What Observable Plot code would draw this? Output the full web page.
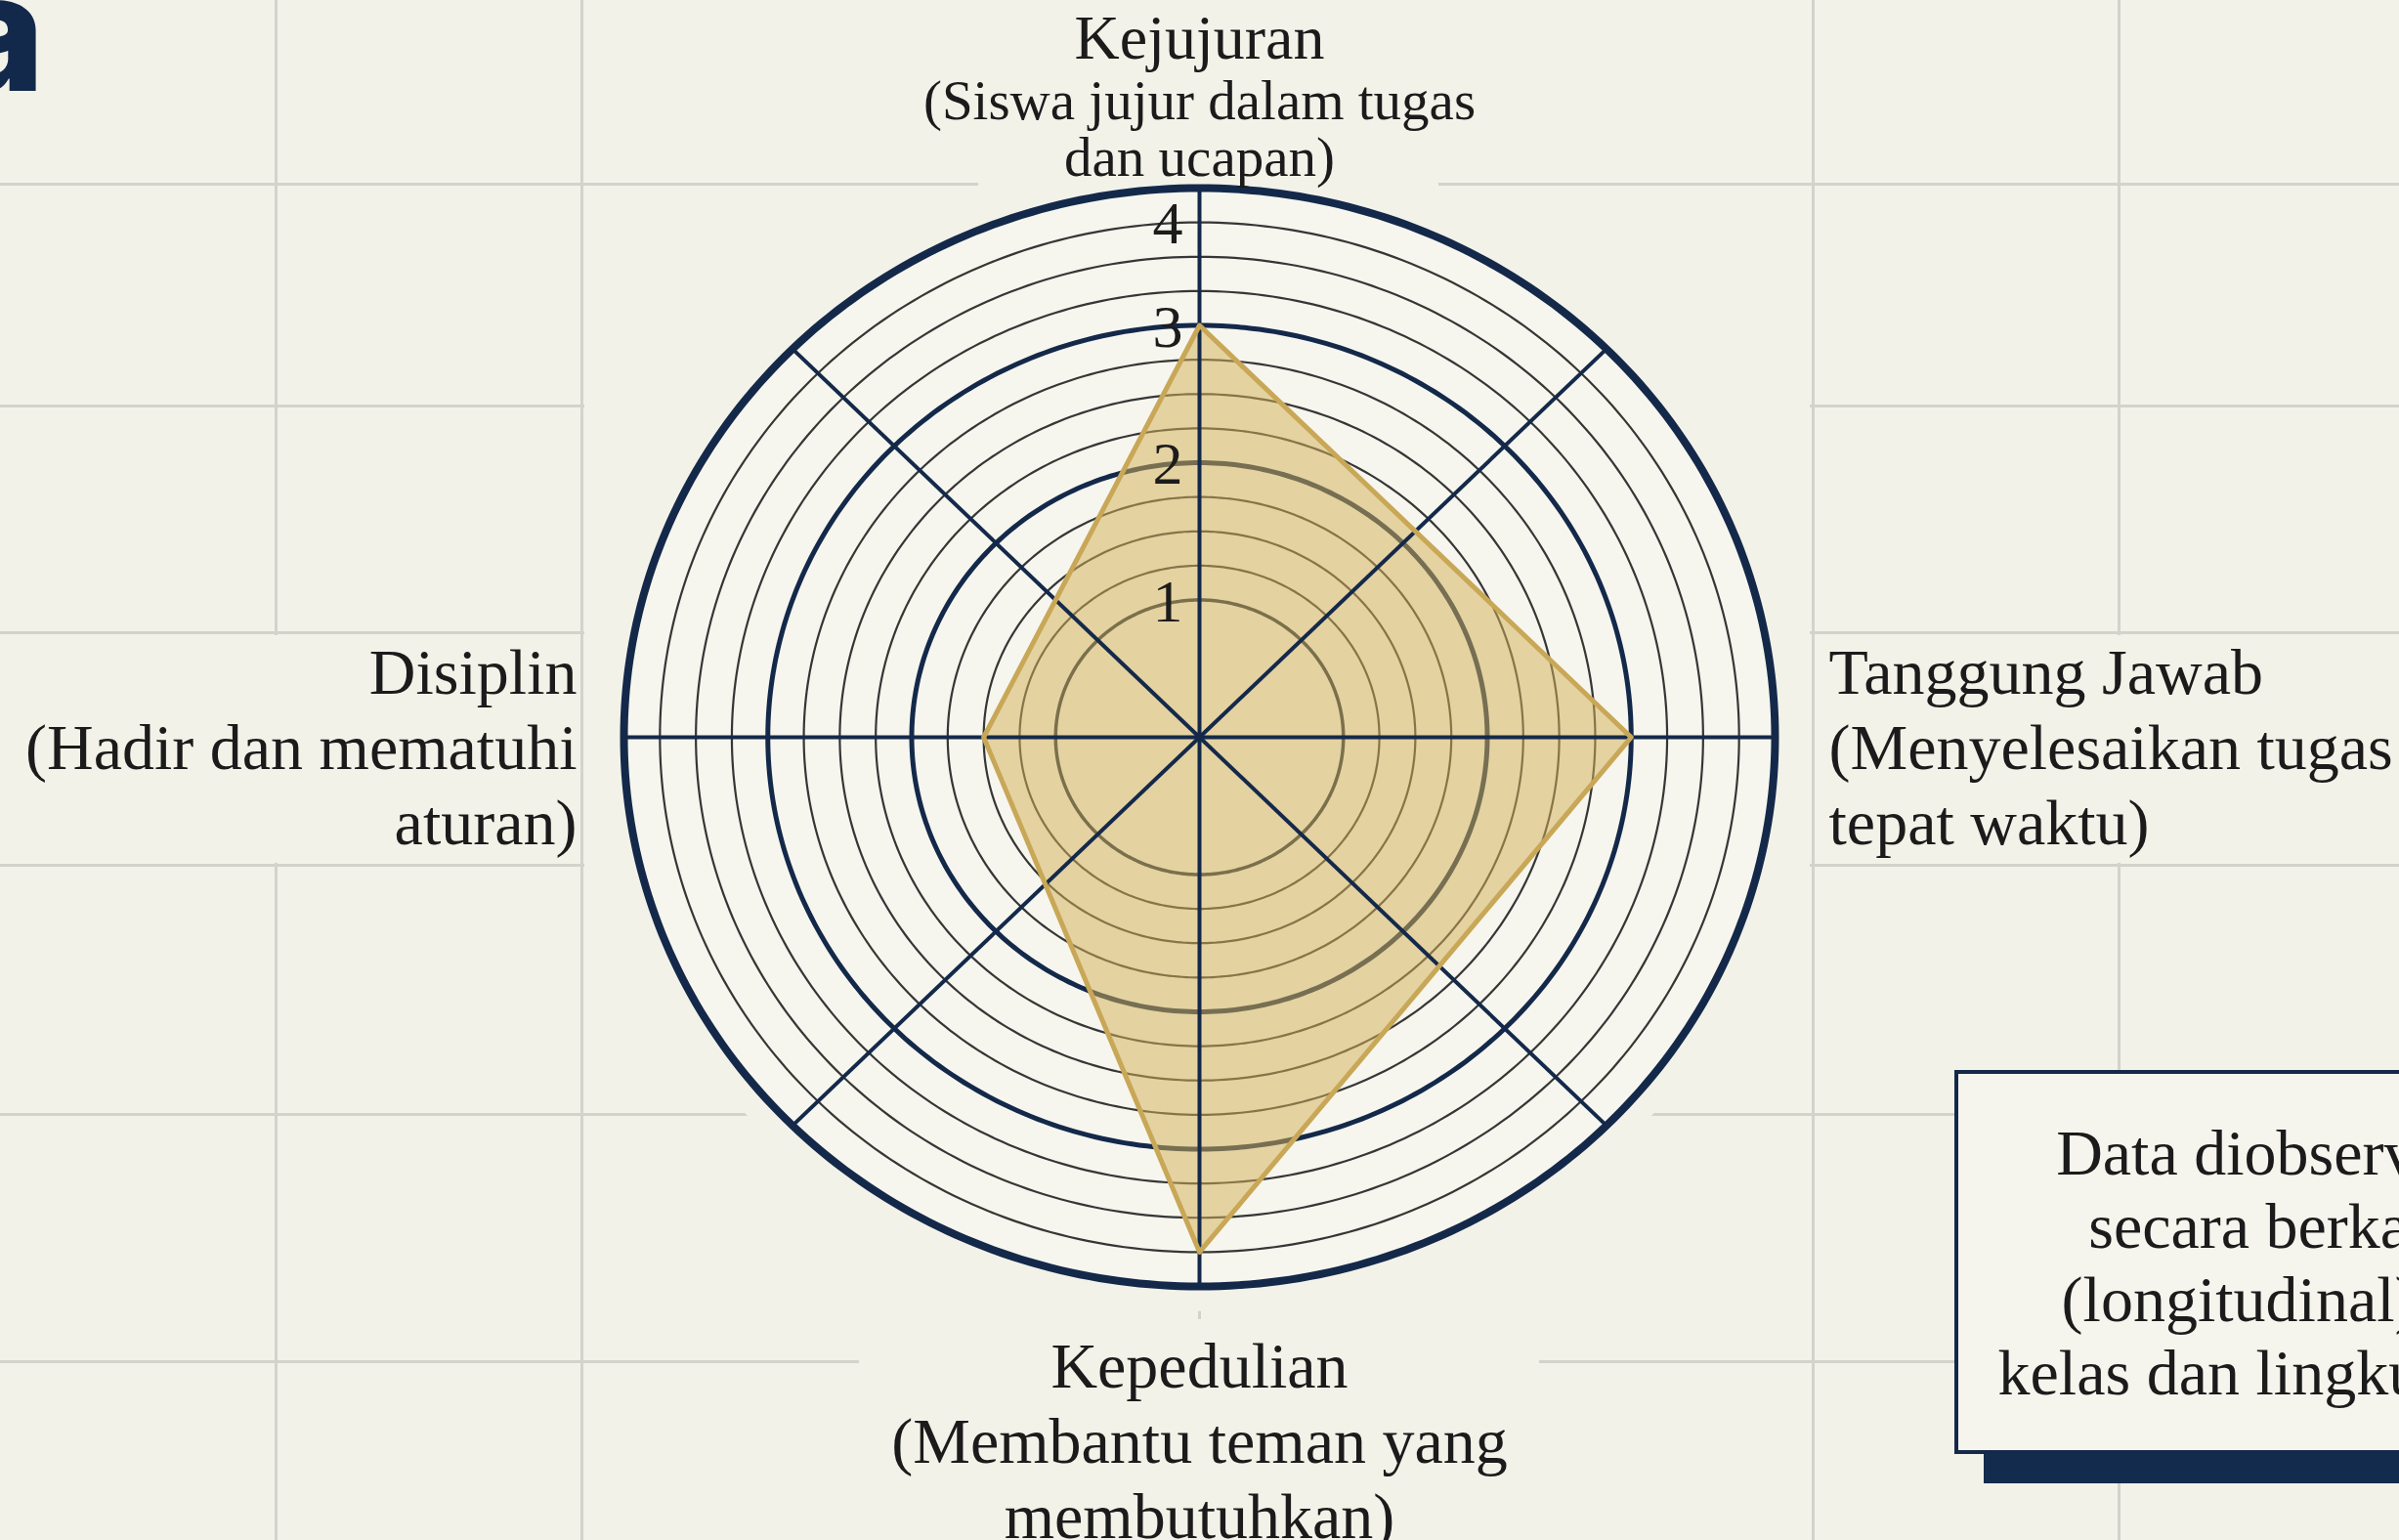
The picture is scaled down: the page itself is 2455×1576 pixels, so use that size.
<!DOCTYPE html>
<html>
<head>
<meta charset="utf-8">
<script src="https://cdn.jsdelivr.net/npm/d3@7"></script>
<script src="https://cdn.jsdelivr.net/npm/@observablehq/plot@0.6"></script>
<style>
  html, body { margin: 0; padding: 0; width: 2455px; height: 1576px; overflow: hidden; background: #f2f2e9; }
  #page { position: relative; width: 2455px; height: 1576px; overflow: hidden; background: #f2f2e9; }
  .g { position: absolute; background: #d3d3cc; }
  .m { position: absolute; background: #f2f2e9; }
  #chart { position: absolute; left: 0; top: 0; }
  #chart svg { display: block; }
  #note {
    position: absolute; left: 2000px; top: 1095px; width: 642px; height: 385px;
    border: 4px solid #14294a; background: #f5f5ee;
    box-shadow: 30px 30px 0 0 #132c4d;
    font-family: "Liberation Serif", serif; font-size: 66px; line-height: 75px; color: #1b1b1b;
    text-align: center; display: flex; flex-direction: column; justify-content: center;
  }
  #titleA {
    position: absolute; left: -254px; width: 300px; top: -52px; text-align: right;
    font-family: Inter, "Noto Sans", sans-serif; font-weight: 800; font-size: 168px; line-height: 1;
    color: #13294b;
  }
</style>
</head>
<body>
<div id="page"></div>
<script>
// ---------- data ----------
const categories = ["Kejujuran", "Tanggung Jawab", "Kepedulian", "Disiplin"];
const descriptions = [
  "(Siswa jujur dalam tugas\ndan ucapan)",
  "(Menyelesaikan tugas\ntepat waktu)",
  "(Membantu teman yang\nmembutuhkan)",
  "(Hadir dan mematuhi\naturan)"
];
const scores = [3, 3, 3.75, 1.5];
const tickValues = [1, 2, 3, 4];
const tickLabels = ["1", "2", "3", "4"];
const noteLines = ["Data diobservasi", "secara berkala", "(longitudinal) di", "kelas dan lingkungan"];
const titleTail = "a";

// ---------- layout ----------
const W = 2455, H = 1576;
const CX = 1227, CY = 754;      // centre of the radar in px
const KX = 147.25, KY = 140.5;  // px per unit (slightly elliptical, as in the reference)
const maxValue = 4;
const navy = "#14294a";
const serif = "Liberation Serif, serif";
const bg = "#f2f2e9";

const page = document.getElementById("page");

// background notebook grid (decoration)
const hLines = [188, 415, 647, 885, 1140, 1393];
const vLines = [282, 595, 1227, 1855, 2168];
for (const y of hLines) {
  const d = document.createElement("div"); d.className = "g";
  Object.assign(d.style, {left: "0px", top: (y - 1.5) + "px", width: W + "px", height: "3px"});
  page.appendChild(d);
}
for (const x of vLines) {
  const d = document.createElement("div"); d.className = "g";
  Object.assign(d.style, {left: (x - 1.5) + "px", top: "0px", width: "3px", height: H + "px"});
  page.appendChild(d);
}
// masks that hide the grid behind the chart area and its labels
const masks = [
  [598, 300, 1254, 700],   // central panel
  [1001, 0, 471, 195],     // top label
  [879, 1350, 696, 226],   // bottom label
  [0, 650, 592, 233],      // left label
  [1858, 650, 597, 233]    // right label
];
for (const [l, t, w, h] of masks) {
  const d = document.createElement("div"); d.className = "m";
  Object.assign(d.style, {left: l + "px", top: t + "px", width: w + "px", height: h + "px"});
  page.appendChild(d);
}

// ---------- geometry helpers ----------
const N = categories.length;
const angleOf = i => i * 2 * Math.PI / N;
const px = (r, a) => r * Math.sin(a);
const py = (r, a) => r * Math.cos(a);
const circle = r => d3.range(0, 361, 1).map(deg => ({r, x: px(r, deg * Math.PI / 180), y: py(r, deg * Math.PI / 180)}));

const minorRings = d3.range(1, maxValue + 0.001, 0.25).filter(v => Math.abs(v - Math.round(v)) > 1e-6);
const minorPts = minorRings.flatMap(circle);
const ring1 = circle(1);
const ringMid = [2, 3].flatMap(circle);
const ringOuter = circle(maxValue);
const maskPts = circle(maxValue * 1.045);

const poly = scores.map((v, i) => ({x: px(v, angleOf(i)), y: py(v, angleOf(i))}));
const spokes = d3.range(8).map(k => {
  const a = k * Math.PI / 4;
  return {x2: px(maxValue, a), y2: py(maxValue, a)};
});

// label placement per direction (offsets in px from the outer ring)
const labelLayout = [
  null, // top handled separately (two sizes)
  {dx: 55, dy: 8, textAnchor: "start"},
  {dx: 0, dy: 156, textAnchor: "middle"},
  {dx: -48, dy: 8, textAnchor: "end"}
];

const marks = [
  Plot.line(maskPts, {x: "x", y: "y", fill: bg, stroke: "none", curve: "linear-closed"}),
  Plot.line(ringOuter, {x: "x", y: "y", fill: "#f6f6ef", stroke: "none", curve: "linear-closed"}),
  Plot.line(minorPts, {x: "x", y: "y", z: "r", stroke: "#363636", strokeWidth: 2.2, curve: "linear-closed"}),
  Plot.line(ring1, {x: "x", y: "y", stroke: "#1c2a3c", strokeWidth: 3.5, curve: "linear-closed"}),
  Plot.line(ringMid, {x: "x", y: "y", z: "r", stroke: navy, strokeWidth: 5, curve: "linear-closed"}),
  Plot.line(poly, {x: "x", y: "y", fill: "#d2b05a", fillOpacity: 0.52, stroke: "none", curve: "linear-closed"}),
  Plot.link(spokes, {x1: () => 0, y1: () => 0, x2: "x2", y2: "y2", stroke: navy, strokeWidth: 4}),
  Plot.line(ringOuter, {x: "x", y: "y", stroke: navy, strokeWidth: 8, curve: "linear-closed"}),
  Plot.dot([{x: 0, y: 0}], {x: "x", y: "y", r: 5, fill: navy}),
  Plot.line(poly, {x: "x", y: "y", stroke: "#c8a757", strokeWidth: 5, strokeLinejoin: "round", curve: "linear-closed"}),
  Plot.text(tickValues, {
    x: () => 0,
    y: d => d === maxValue ? d - 0.25 : d,
    text: (d, i) => tickLabels[i],
    textAnchor: "end", lineAnchor: "middle", dx: -17, dy: 2,
    fontSize: 62, fontFamily: serif, fill: "#1c1c1c"
  }),
  // top category: name + description in two sizes
  Plot.text([categories[0]], {
    x: () => px(maxValue, angleOf(0)), y: () => py(maxValue, angleOf(0)), text: d => d,
    dy: -153, textAnchor: "middle", lineAnchor: "middle",
    fontSize: 64, fontFamily: serif, fill: "#1b1b1b"
  }),
  Plot.text([descriptions[0]], {
    x: () => px(maxValue, angleOf(0)), y: () => py(maxValue, angleOf(0)), text: d => d,
    dy: -60, textAnchor: "middle", lineAnchor: "middle", lineHeight: 1.02,
    fontSize: 57, fontFamily: serif, fill: "#1b1b1b"
  })
];
for (let i = 1; i < N; i++) {
  const L = labelLayout[i];
  marks.push(Plot.text([categories[i] + "\n" + descriptions[i]], {
    x: () => px(maxValue, angleOf(i)), y: () => py(maxValue, angleOf(i)), text: d => d,
    dx: L.dx, dy: L.dy, textAnchor: L.textAnchor, lineAnchor: "middle", lineHeight: 1.165,
    fontSize: 66, fontFamily: serif, fill: "#1b1b1b"
  }));
}

const chart = Plot.plot({
  width: W, height: H,
  marginTop: 0, marginRight: 0, marginBottom: 0, marginLeft: 0,
  x: {domain: [-CX / KX, (W - CX) / KX], axis: null},
  y: {domain: [-(H - CY) / KY, CY / KY], axis: null},
  style: {background: "transparent", overflow: "visible"},
  marks
});
const holder = document.createElement("div");
holder.id = "chart";
holder.appendChild(chart);
page.appendChild(holder);

// note box (cropped at the right edge, as in the reference)
const note = document.createElement("div");
note.id = "note";
for (const line of noteLines) {
  const s = document.createElement("div");
  s.textContent = line;
  note.appendChild(s);
}
page.appendChild(note);

// tail of the cropped title
const ta = document.createElement("div");
ta.id = "titleA";
ta.textContent = titleTail;
page.appendChild(ta);
</script>
</body>
</html>
